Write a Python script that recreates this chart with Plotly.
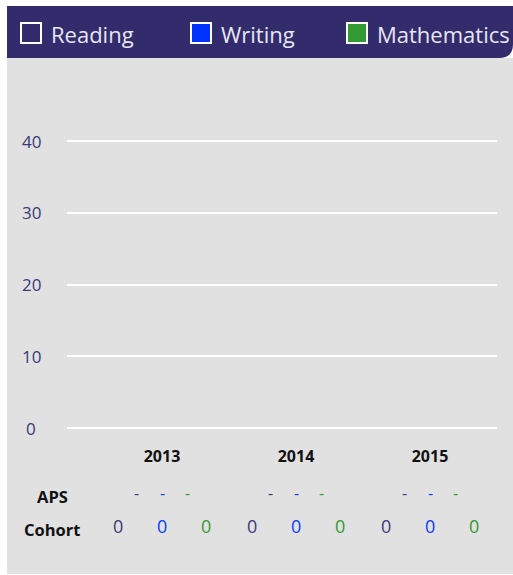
import plotly.graph_objects as go

# ---- data ----
years = ["2013", "2014", "2015"]
series_names = ["Reading", "Writing", "Mathematics"]
reading = [0, 0, 0]
writing = [0, 0, 0]
mathematics = [0, 0, 0]
aps_reading = ["-", "-", "-"]
aps_writing = ["-", "-", "-"]
aps_math = ["-", "-", "-"]
cohort_reading = [0, 0, 0]
cohort_writing = [0, 0, 0]
cohort_math = [0, 0, 0]
y_ticks = [0, 10, 20, 30, 40]
row_labels = ["APS", "Cohort"]

# ---- style ----
W, H = 513, 575
L, R = 67, 497          # plot area x in page pixels
Y0PX, Y40PX = 428, 141  # pixel rows of value 0 and value 40
EXT = 3                 # extend plot area so edge grid lines are drawn
T, B = Y40PX - EXT, Y0PX + EXT
PXU = (Y0PX - Y40PX) / 40.0
HEADER = "#322c6c"
GRAY = "#e1e1e1"
COLORS = ["#3b3a7a", "#0a3cff", "#339933"]
SQUARE_FILL = [HEADER, "#0033ff", "#339933"]
FONT = "Open Sans"


def px(x):
    return (x - L) / (R - L)


def py(y):
    return (B - y) / (B - T)


idx = list(range(len(years)))
fig = go.Figure()
for name, vals, col in zip(series_names, [reading, writing, mathematics], COLORS):
    fig.add_trace(go.Bar(x=idx, y=vals, name=name, marker_color=col,
                         marker_line_width=0, showlegend=False))

shapes = []
# gray panel
shapes.append(dict(type="rect", xref="paper", yref="paper", x0=px(7), x1=px(513),
                   y0=py(574), y1=py(58), fillcolor=GRAY, line_width=0, layer="below"))
# header bar with rounded bottom-right corner
x0, x1, yt, yb = px(7), px(513), py(6), py(58)
rh, rv = 14 / (R - L), 14 / (B - T)
path = (f"M{x0},{yt} L{x1},{yt} L{x1},{yb + rv} Q{x1},{yb} {x1 - rh},{yb} "
        f"L{x0},{yb} Z")
shapes.append(dict(type="path", xref="paper", yref="paper", path=path,
                   fillcolor=HEADER, line_width=0, layer="below"))

annotations = []
# legend in header
sq_x = [20, 190, 346]
txt_x = [49, 219, 375]
for i, name in enumerate(series_names):
    shapes.append(dict(type="rect", xref="paper", yref="paper",
                       x0=px(sq_x[i] + 1), x1=px(sq_x[i] + 21), y0=py(43), y1=py(23),
                       fillcolor=SQUARE_FILL[i], line=dict(color="white", width=2)))
    annotations.append(dict(xref="paper", yref="paper", x=px(txt_x[i]), y=py(34),
                            text=name, showarrow=False, xanchor="left", yanchor="middle",
                            font=dict(family=FONT, size=22, color="#e8e6f2")))

# y tick labels (centered)
for v in y_ticks:
    annotations.append(dict(xref="paper", yref="y", x=px(31), y=v, text=str(v),
                            showarrow=False, xanchor="center", yanchor="middle",
                            font=dict(family=FONT, size=17, color="#3b3a7a")))

# row labels
for lab, yy in zip(row_labels, [496, 529]):
    annotations.append(dict(xref="paper", yref="paper", x=px(52), y=py(yy), text=f"<b>{lab}</b>",
                            showarrow=False, xanchor="center", yanchor="middle",
                            font=dict(family=FONT, size=16.5, color="#111111")))

aps = [aps_reading, aps_writing, aps_math]
coh = [cohort_reading, cohort_writing, cohort_math]
aps_off = [-0.19, 0, 0.19]
coh_off = [-0.328, 0, 0.328]
for i in idx:
    for s in range(3):
        annotations.append(dict(xref="x", yref="paper", x=i + aps_off[s], y=py(493),
                                text=aps[s][i], showarrow=False, xanchor="center",
                                yanchor="middle",
                                font=dict(family=FONT, size=16, color=COLORS[s])))
        annotations.append(dict(xref="x", yref="paper", x=i + coh_off[s], y=py(526),
                                text=str(coh[s][i]), showarrow=False, xanchor="center",
                                yanchor="middle",
                                font=dict(family=FONT, size=18, color=COLORS[s])))

fig.update_layout(
    width=W, height=H,
    margin=dict(l=L, r=W - R, t=T, b=H - B, pad=0),
    paper_bgcolor="white", plot_bgcolor=GRAY,
    barmode="group", bargap=0.44,
    shapes=shapes, annotations=annotations,
    showlegend=False,
    font=dict(family=FONT),
    xaxis=dict(range=[-0.709, 2.5], tickvals=idx, ticktext=[f"<b>{y}</b>" for y in years],
               showgrid=False, zeroline=False, showline=False, ticks="",
               tickfont=dict(family=FONT, size=16, color="#111111"), ticklabelstandoff=14,
               fixedrange=True),
    yaxis=dict(range=[-EXT / PXU, 40 + EXT / PXU], tickvals=y_ticks, showticklabels=False,
               showgrid=True, gridcolor="white", gridwidth=2, zeroline=False,
               showline=False, ticks="", fixedrange=True),
)

fig.write_html("out.html", config={"displayModeBar": False},
               post_script="document.body.style.margin='0';")
